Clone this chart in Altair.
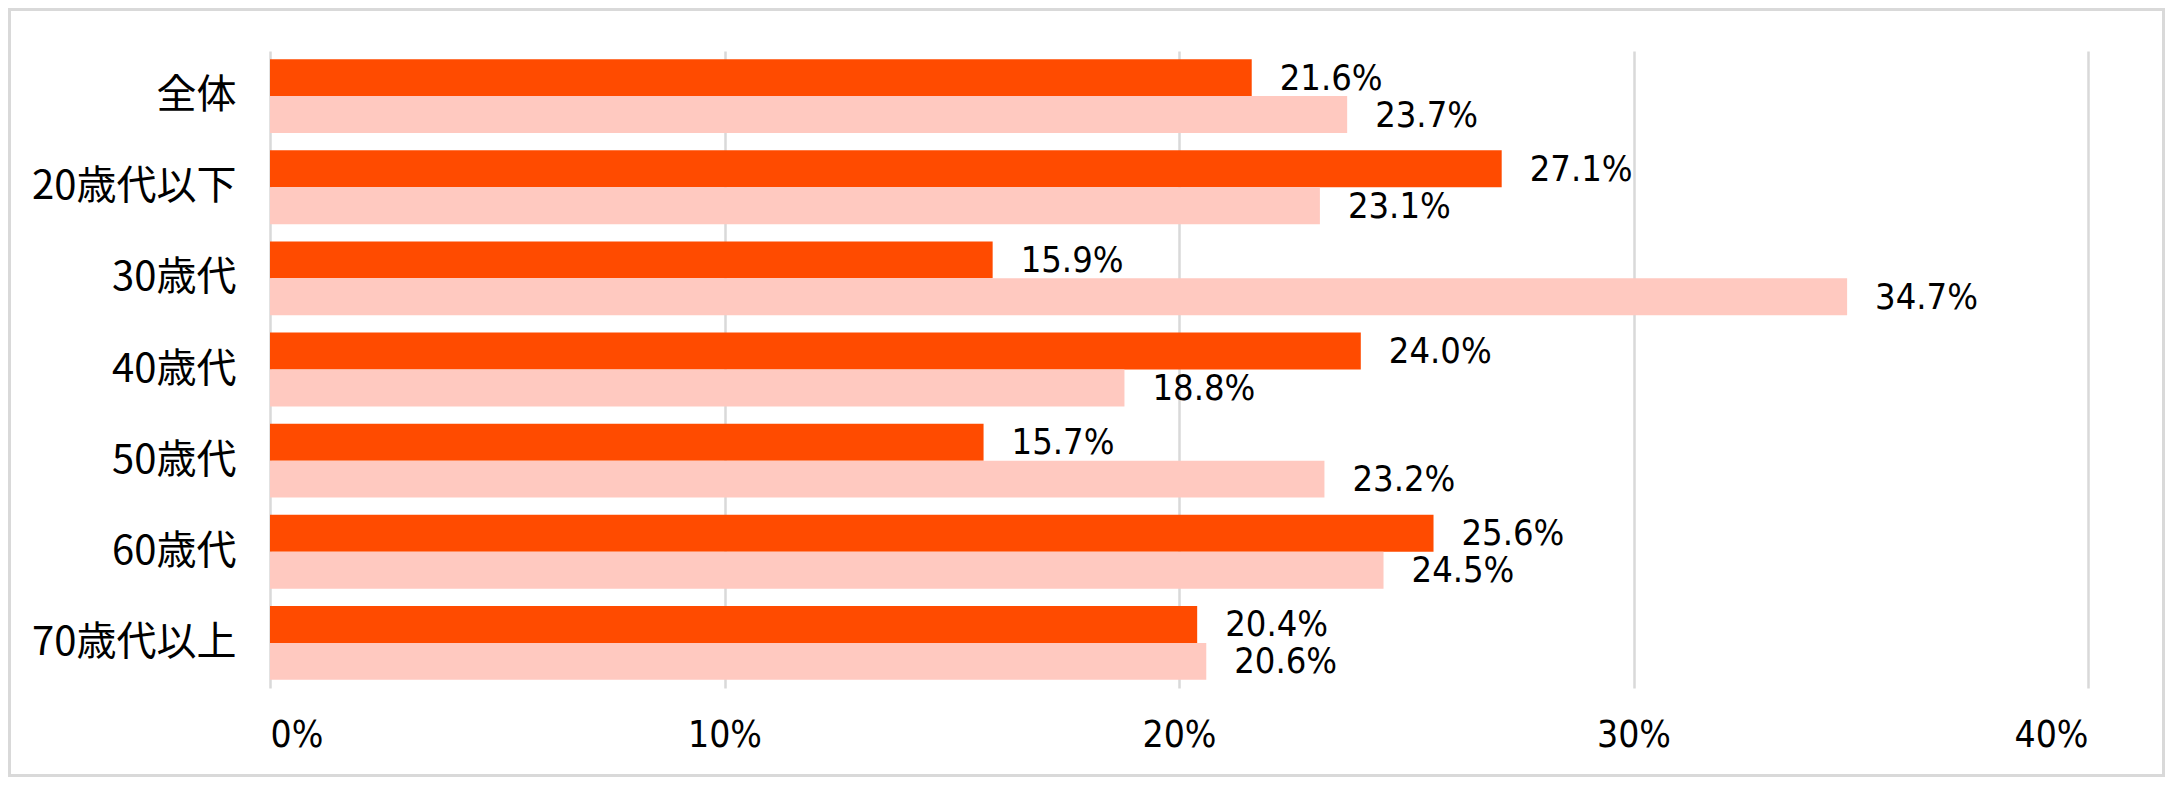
import altair as alt
import pandas as pd

categories = ["全体", "20歳代以下", "30歳代", "40歳代", "50歳代", "60歳代", "70歳代以上"]
series_names = ["系列1", "系列2"]
dark_values = [21.6, 27.1, 15.9, 24.0, 15.7, 25.6, 20.4]
light_values = [23.7, 23.1, 34.7, 18.8, 23.2, 24.5, 20.6]
x_ticks = [0, 10, 20, 30, 40]
colors = ["#FF4B00", "#FFC9C0"]

rows = []
for c, d, l in zip(categories, dark_values, light_values):
    rows.append({"category": c, "series": series_names[0], "value": d, "label": f"{d:.1f}%"})
    rows.append({"category": c, "series": series_names[1], "value": l, "label": f"{l:.1f}%"})
df = pd.DataFrame(rows)

NUM_FONT = "DejaVu Sans Condensed, Liberation Sans, sans-serif"
CJK_FONT = "Noto Sans CJK JP"

y_enc = alt.Y(
    "category:N",
    sort=categories,
    scale=alt.Scale(paddingInner=0.19, paddingOuter=0.09),
    axis=alt.Axis(
        title=None, domain=False, ticks=False, grid=False,
        labelFont=CJK_FONT, labelFontSize=40, labelColor="#000000",
        labelPadding=34, labelLimit=0, minExtent=252, maxExtent=252,
    ),
)
x_enc = alt.X(
    "value:Q",
    scale=alt.Scale(domain=[0, 40], nice=False),
    axis=alt.Axis(
        values=x_ticks, labelExpr="datum.value + '%'", title=None,
        domain=False, ticks=False, grid=True, gridColor="#D9D9D9", gridWidth=2.5,
        labelFont=NUM_FONT, labelFontSize=37, labelColor="#000000",
        labelPadding=29, minExtent=60, maxExtent=60,
    ),
)
yoff = alt.YOffset("series:N", sort=series_names)
color = alt.Color("series:N", scale=alt.Scale(domain=series_names, range=colors), legend=None)

base = alt.Chart(df)
bars = base.mark_bar(cornerRadius=0).encode(y=y_enc, x=x_enc, yOffset=yoff, color=color)
labels = base.mark_text(
    align="left", baseline="middle", dx=28, dy=1, fontSize=36, font=NUM_FONT, color="#000000"
).encode(y=y_enc, x=x_enc, yOffset=yoff, text="label:N")

frame = alt.Chart(pd.DataFrame({"f": [0]})).mark_rect(
    fill="transparent", stroke="#D9D9D9", strokeWidth=3
).encode(
    x=alt.value(-260.5), x2=alt.value(1893.5), y=alt.value(-41.5), y2=alt.value(724.5)
)

chart = alt.layer(frame, bars, labels).properties(
    width=1818, height=637, padding=0, background="#FFFFFF"
).configure_view(stroke=None)

chart.save("out.html", embed_options={"renderer": "svg", "actions": False})
